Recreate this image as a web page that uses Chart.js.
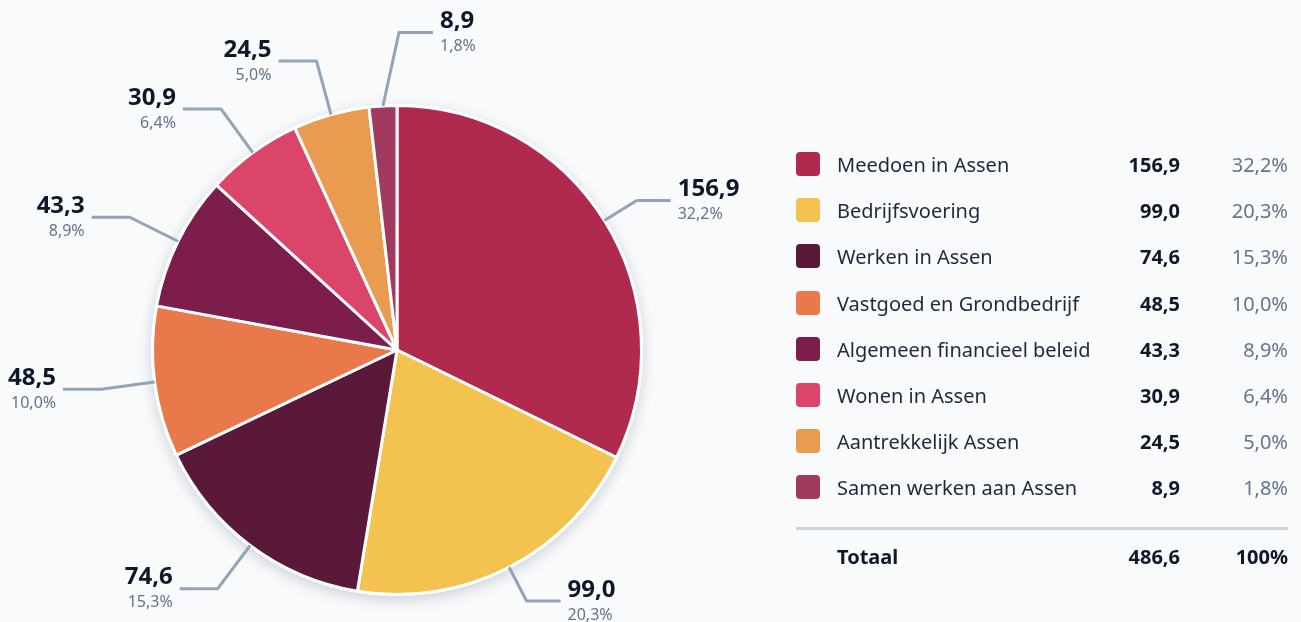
<!DOCTYPE html>
<html>
<head>
<meta charset="utf-8">
<script src="https://cdn.jsdelivr.net/npm/chart.js@4.4.0/dist/chart.umd.min.js"></script>
<style>
  html, body { margin: 0; padding: 0; background: #f8fafc; }
  body { width: 1301px; height: 622px; position: relative; overflow: hidden; font-family: "Noto Sans", sans-serif; }
  #wrap { position: absolute; left: 0; top: 0; width: 1301px; height: 622px; }
  #legend { position: absolute; left: 796px; top: 143px; width: 492px; }
  .row { position: relative; height: 46.2px; font-size: 20px; color: #1e293b; }
  .sw { position: absolute; left: 0; top: 9px; width: 24px; height: 24px; border-radius: 4px; }
  .lab { position: absolute; left: 41px; top: 9px; line-height: 26px; white-space: nowrap; }
  .val { position: absolute; right: 108px; top: 9px; line-height: 26px; font-weight: 700; color: #0f172a; }
  .pct { position: absolute; right: 0; top: 9px; line-height: 26px; color: #64748b; }
  .sep { height: 3px; background: #cbd5e1; margin-top: 14px; }
  .tot { margin-top: 5px; }
  .tot .lab, .tot .val, .tot .pct { font-weight: 700; color: #0f172a; }
</style>
</head>
<body>
<div id="wrap"><canvas id="pieChart" width="1301" height="622"></canvas></div>
<div id="legend"></div>
<script>
let labels = ['Meedoen in Assen', 'Bedrijfsvoering', 'Werken in Assen', 'Vastgoed en Grondbedrijf',
              'Algemeen financieel beleid', 'Wonen in Assen', 'Aantrekkelijk Assen', 'Samen werken aan Assen'];
let values = [156.9, 99.0, 74.6, 48.5, 43.3, 30.9, 24.5, 8.9];
let colorHex = ['#b0294f', '#f3c24f', '#5a1939', '#e9784a', '#7c1d4b', '#da4569', '#e99c4f', '#a13a5f'];

let total = values.reduce((a, b) => a + b, 0);
let fmt = (v) => v.toFixed(1).replace('.', ',');
let pct = (v) => fmt(v / total * 100) + '%';

// legend table on the right
let legend = document.getElementById('legend');
labels.forEach((l, i) => {
    let row = document.createElement('div');
    row.className = 'row';
    row.innerHTML = '<div class="sw" style="background:' + colorHex[i] + '"></div>' +
        '<div class="lab">' + l + '</div><div class="val">' + fmt(values[i]) + '</div>' +
        '<div class="pct">' + pct(values[i]) + '</div>';
    legend.appendChild(row);
});
legend.insertAdjacentHTML('beforeend', '<div class="sep"></div>' +
    '<div class="row tot"><div class="lab">Totaal</div><div class="val">' + fmt(total) +
    '</div><div class="pct">100%</div></div>');

// soft shadow under the pie
const shadowPlugin = {
    id: 'pieShadow',
    beforeDatasetsDraw(chart) {
        let arc = chart.getDatasetMeta(0).data[0];
        if (!arc) return;
        let c = chart.ctx;
        c.save();
        c.shadowColor = 'rgba(15,23,42,0.18)';
        c.shadowBlur = 14;
        c.shadowOffsetY = 4;
        c.fillStyle = '#ffffff';
        c.beginPath();
        c.arc(arc.x, arc.y, arc.outerRadius + 1.5, 0, Math.PI * 2);
        c.fill();
        c.restore();
    }
};

// leader lines with value + percentage
const leaderPlugin = {
    id: 'leaders',
    afterDatasetsDraw(chart) {
        let c = chart.ctx;
        let arcs = chart.getDatasetMeta(0).data;
        let items = arcs.map((a, i) => {
            let mid = (a.startAngle + a.endAngle) / 2;
            let dx = Math.cos(mid), dy = Math.sin(mid);
            let R = a.outerRadius;
            let sx = a.x + dx * R, sy = a.y + dy * R;
            let ex, ey, right;
            if (Math.abs(dx) < 0.1 && dy < 0) {
                // near the top: straight up, label to the right
                ex = a.x + 2; ey = a.y - (R + 73); right = true;
            } else {
                right = dx >= 0;
                let r = R + (right ? 38 : 54);
                ex = a.x + dx * r; ey = a.y + dy * r;
            }
            return {i, sx, sy, ex, ey, right};
        });
        // keep left-side labels apart in the upper half
        let left = items.filter(o => !o.right && o.ey < arcs[0].y).sort((a, b) => b.ey - a.ey);
        for (let k = 1; k < left.length; k++) {
            if (left[k - 1].ey - left[k].ey < 48) left[k].ey = left[k - 1].ey - 48;
        }
        items.forEach(o => {
            let hx = o.ex + (o.right ? 34 : -38);
            c.save();
            c.strokeStyle = '#94a3b8';
            c.lineWidth = 3;
            c.lineJoin = 'round';
            c.beginPath();
            c.moveTo(o.sx, o.sy);
            c.lineTo(o.ex, o.ey);
            c.lineTo(hx, o.ey);
            c.stroke();
            let tx = hx + (o.right ? 7 : -7);
            c.textAlign = o.right ? 'left' : 'right';
            c.textBaseline = 'middle';
            c.fillStyle = '#0f172a';
            c.font = 'bold 24px "Noto Sans"';
            c.fillText(fmt(values[o.i]), tx, o.ey - 11);
            c.fillStyle = '#64748b';
            c.font = '16px "Noto Sans"';
            c.fillText(pct(values[o.i]), tx, o.ey + 14);
            c.restore();
        });
    }
};

let ctx = document.getElementById('pieChart').getContext('2d');
let myChart = new Chart(ctx, {
    type: 'pie',
    data: {
        labels: labels,
        datasets: [{
            data: values,
            backgroundColor: colorHex,
            borderColor: '#ffffff',
            borderWidth: 3
        }]
    },
    options: {
        responsive: false,
        animation: false,
        layout: {
            padding: {top: 104, bottom: 26, left: 151, right: 658}
        },
        plugins: {
            legend: {display: false},
            tooltip: {enabled: false}
        }
    },
    plugins: [shadowPlugin, leaderPlugin]
});
</script>
</body>
</html>
